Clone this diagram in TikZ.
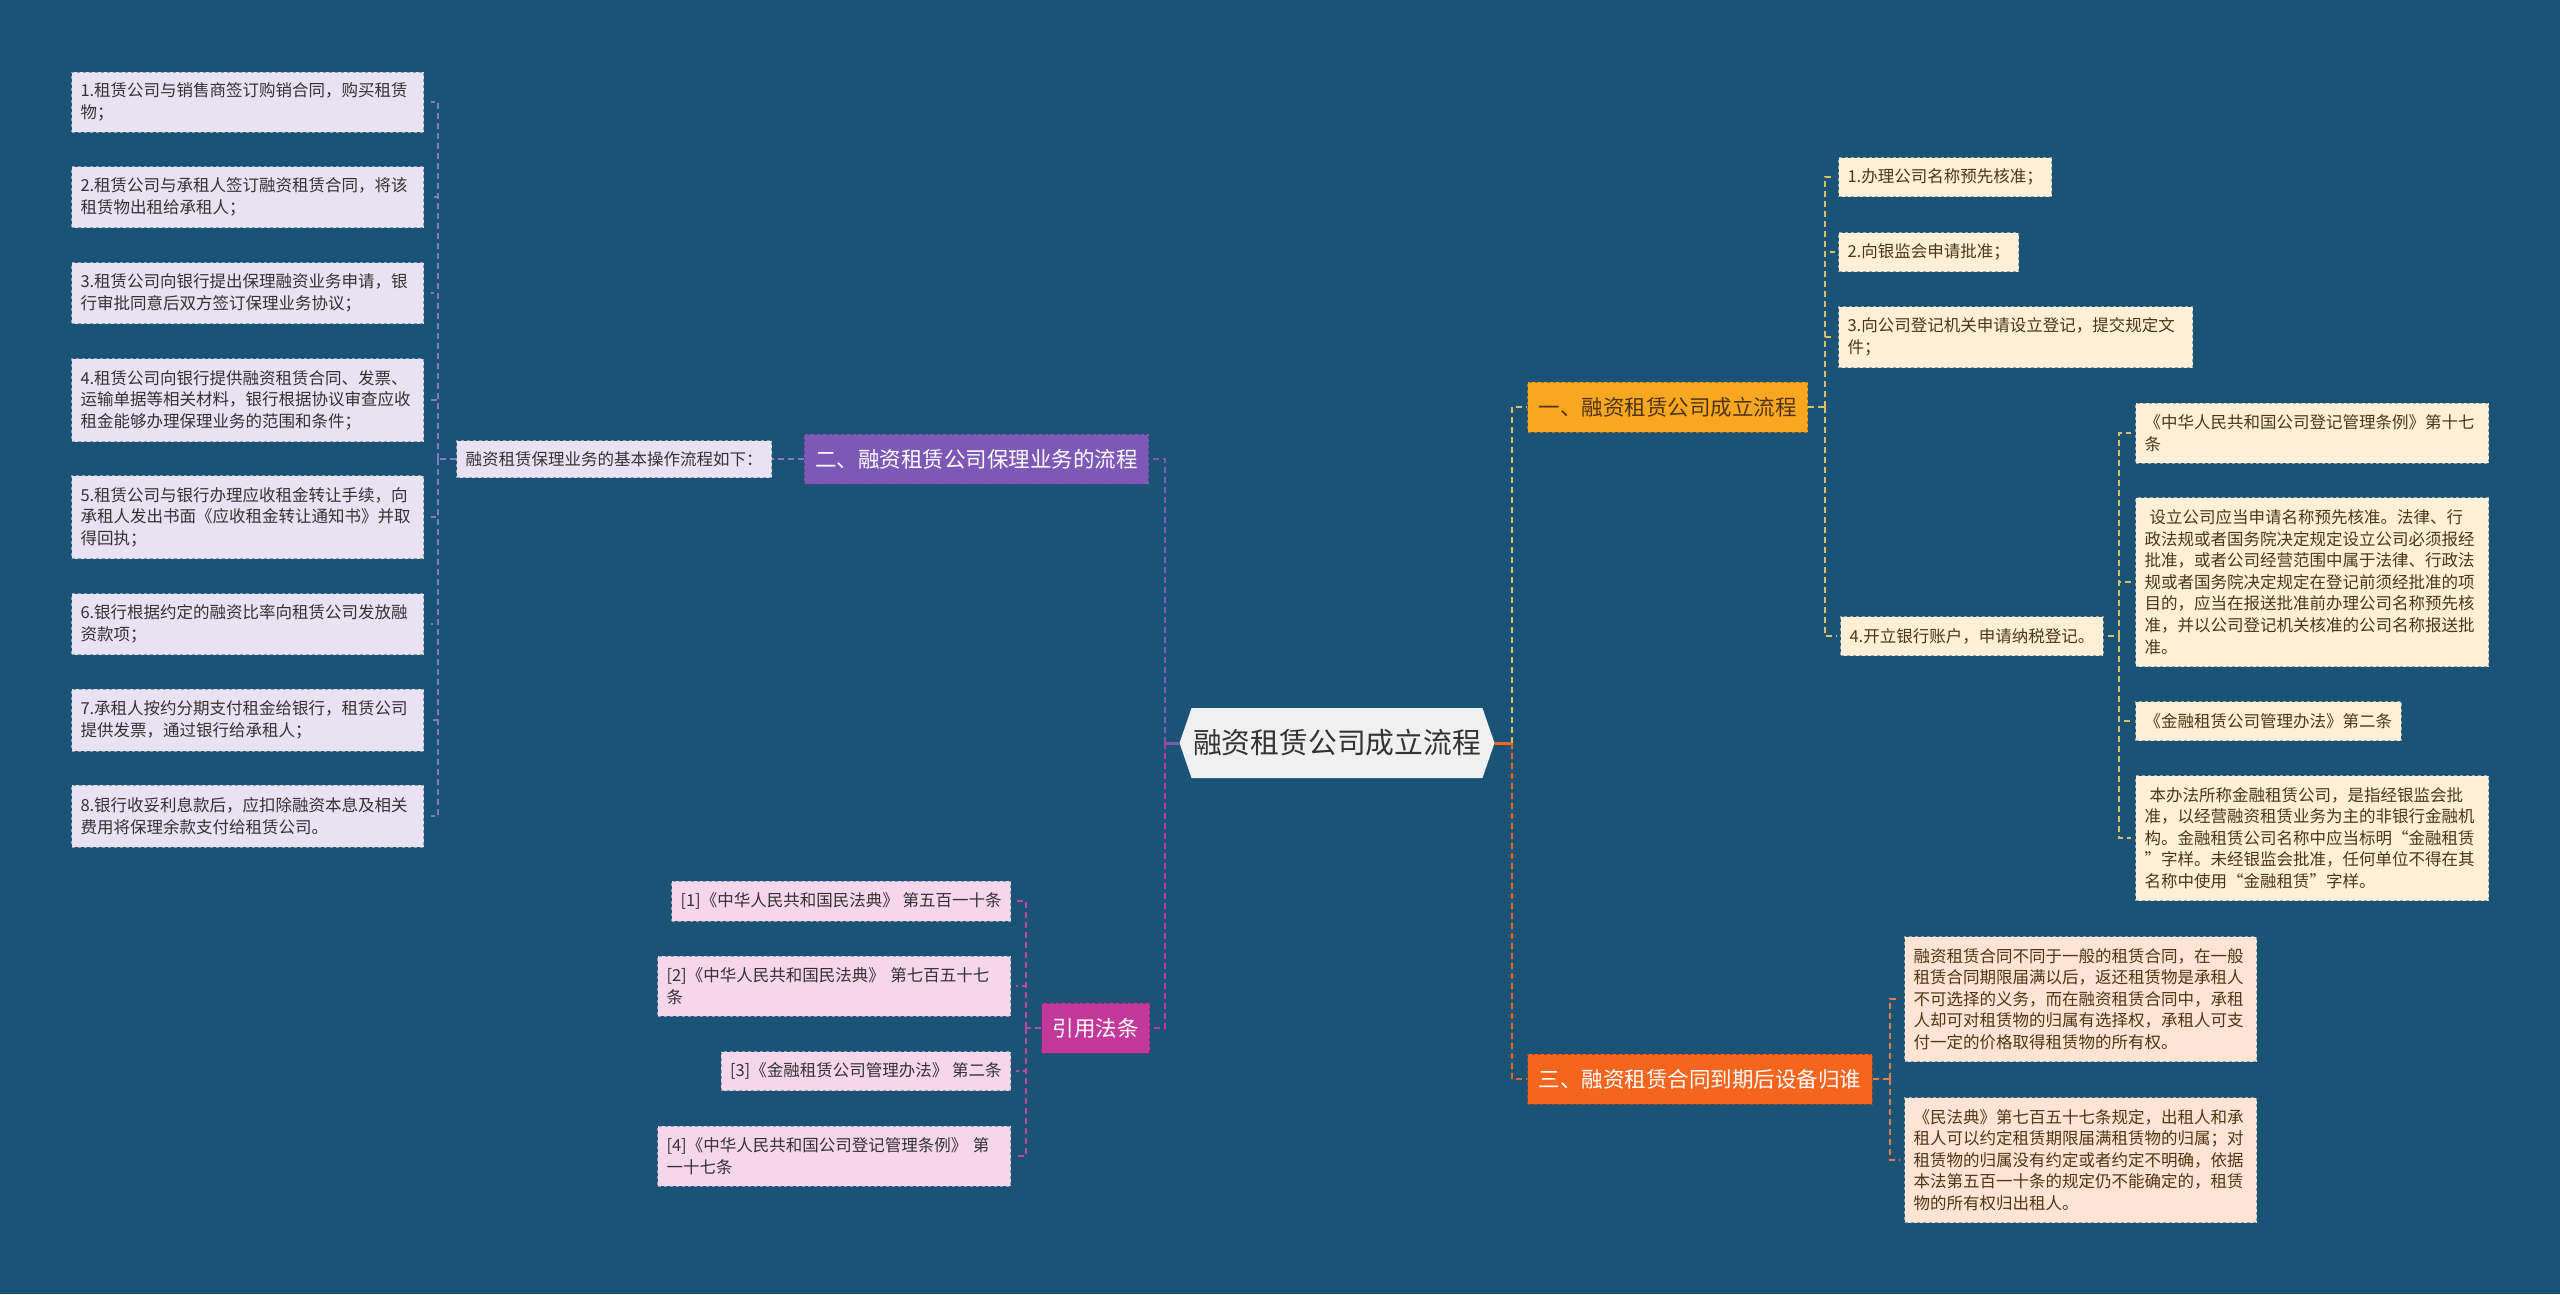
\documentclass[tikz,border=0pt]{standalone}
\usepackage{fontspec}
\setmainfont{Noto Sans CJK SC}
\usepackage{tikz}
\usetikzlibrary{shapes.symbols}
\definecolor{bgBlue}{RGB}{26,83,118}
\definecolor{rootGray}{RGB}{240,240,240}
\definecolor{inkDark}{RGB}{51,51,51}
\definecolor{inkBrown}{RGB}{78,54,20}
\definecolor{brYellow}{RGB}{249,166,32}
\definecolor{brPurple}{RGB}{126,88,182}
\definecolor{brOrange}{RGB}{246,101,30}
\definecolor{brMagenta}{RGB}{196,56,155}
\definecolor{lfLavender}{RGB}{232,226,243}
\definecolor{lfCream}{RGB}{253,240,214}
\definecolor{lfPeach}{RGB}{253,228,212}
\definecolor{lfPink}{RGB}{246,214,235}
\definecolor{lnPurple}{RGB}{134,120,196}
\definecolor{lnYellow}{RGB}{222,190,100}
\definecolor{lnOrange}{RGB}{226,128,74}
\definecolor{lnMagenta}{RGB}{196,70,160}
\newcommand{\mmfont}[2]{\fontsize{#1}{#2}\selectfont}

\begin{document}
\begin{tikzpicture}[x=1pt,y=-1pt,
  hubroot/.style={signal,signal to=west and east,signal pointer angle=142,
    fill=rootGray,text=inkDark,font=\mmfont{28.8}{34},
    minimum width=315,minimum height=70,inner sep=0pt},
  topic/.style={fill=#1,draw=#1!70!black,dashed,line width=1pt,
    inner xsep=11pt,inner ysep=0pt,minimum height=50,font=\mmfont{21.5}{26}},
  leaf/.style={fill=#1,draw=#1!55!bgBlue,dashed,line width=1pt,
    inner xsep=9pt,inner ysep=0pt,align=left,font=\mmfont{16.5}{21.6}},
  link/.style={draw=#1,line width=2pt,dash pattern=on 6pt off 4pt},
  stub/.style={draw=#1,line width=3pt}]
  % canvas
  \fill[bgBlue] (0,0) rectangle (2560,1294);
  \useasboundingbox (0,0) rectangle (2560,1294);
  % ---- centre ----
  \node[hubroot] (root) at (1337,743) {融资租赁公司成立流程};
  \coordinate (lhub) at (1165,743);
  \coordinate (rhub) at (1512,743);
  % ---- main topics ----
  \node[topic=brYellow,text=inkBrown,anchor=west] (yi) at (1527,407) {一、融资租赁公司成立流程};
  \node[topic=brPurple,text=white,anchor=east] (er) at (1149,459) {二、融资租赁公司保理业务的流程};
  \node[topic=brOrange,text=white,anchor=west] (san) at (1527,1079) {三、融资租赁合同到期后设备归谁};
  \node[topic=brMagenta,text=white,anchor=east] (fa) at (1150,1028) {引用法条};
  \draw[stub=brPurple] (root.west) -- (lhub);
  \draw[stub=brOrange] (root.east) -- (rhub);
  \draw[link=brPurple] (lhub) |- (er.east);
  \draw[link=brMagenta] (lhub) |- (fa.east);
  \draw[link=lnYellow] (rhub) |- (yi.west);
  \draw[link=brOrange] (rhub) |- (san.west);

  % ---- 二: factoring steps (left) ----
  \node[leaf=lfLavender,text=inkDark,anchor=east,minimum height=37] (intro) at (772,459)
    {融资租赁保理业务的基本操作流程如下：};
  \node[leaf=lfLavender,text=inkDark,anchor=east,text width=334,minimum height=60] (s1) at (424,102)
    {1.租赁公司与销售商签订购销合同，购买租赁\\物；};
  \node[leaf=lfLavender,text=inkDark,anchor=east,text width=334,minimum height=61] (s2) at (424,197)
    {2.租赁公司与承租人签订融资租赁合同，将该\\租赁物出租给承租人；};
  \node[leaf=lfLavender,text=inkDark,anchor=east,text width=334,minimum height=61] (s3) at (424,293)
    {3.租赁公司向银行提出保理融资业务申请，银\\行审批同意后双方签订保理业务协议；};
  \node[leaf=lfLavender,text=inkDark,anchor=east,text width=334,minimum height=83] (s4) at (424,400)
    {4.租赁公司向银行提供融资租赁合同、发票、\\运输单据等相关材料，银行根据协议审查应收\\租金能够办理保理业务的范围和条件；};
  \node[leaf=lfLavender,text=inkDark,anchor=east,text width=334,minimum height=83] (s5) at (424,517)
    {5.租赁公司与银行办理应收租金转让手续，向\\承租人发出书面《应收租金转让通知书》并取\\得回执；};
  \node[leaf=lfLavender,text=inkDark,anchor=east,text width=334,minimum height=61] (s6) at (424,624)
    {6.银行根据约定的融资比率向租赁公司发放融\\资款项；};
  \node[leaf=lfLavender,text=inkDark,anchor=east,text width=334,minimum height=62] (s7) at (424,720)
    {7.承租人按约分期支付租金给银行，租赁公司\\提供发票，通过银行给承租人；};
  \node[leaf=lfLavender,text=inkDark,anchor=east,text width=334,minimum height=62] (s8) at (424,816)
    {8.银行收妥利息款后，应扣除融资本息及相关\\费用将保理余款支付给租赁公司。};
  \coordinate (sp2) at (438,459);
  \draw[link=lnPurple] (er.west) -- (intro.east);
  \draw[link=lnPurple] (intro.west) -- (sp2);
  \foreach \n in {1,...,8}
    \draw[link=lnPurple,shorten >=7pt] (sp2) |- (s\n.east);

  % ---- 引用法条 (left, lower) ----
  \node[leaf=lfPink,text=inkDark,anchor=east,minimum height=40] (r1) at (1011,901)
    {[1]《中华人民共和国民法典》~第五百一十条};
  \node[leaf=lfPink,text=inkDark,anchor=east,text width=335,minimum height=60] (r2) at (1011,986)
    {[2]《中华人民共和国民法典》~第七百五十七\\条};
  \node[leaf=lfPink,text=inkDark,anchor=east,minimum height=39] (r3) at (1011,1071)
    {[3]《金融租赁公司管理办法》~第二条};
  \node[leaf=lfPink,text=inkDark,anchor=east,text width=335,minimum height=60] (r4) at (1011,1156)
    {[4]《中华人民共和国公司登记管理条例》~第\\一十七条};
  \coordinate (sp4) at (1026,1028);
  \draw[link=lnMagenta] (fa.west) -- (sp4);
  \foreach \n in {1,...,4}
    \draw[link=lnMagenta,shorten >=5pt] (sp4) |- (r\n.east);

  % ---- 一: setting up the company (right) ----
  \node[leaf=lfCream,text=inkBrown,anchor=west,minimum height=39] (c1) at (1838,177)
    {1.办理公司名称预先核准；};
  \node[leaf=lfCream,text=inkBrown,anchor=west,minimum height=39] (c2) at (1838,252)
    {2.向银监会申请批准；};
  \node[leaf=lfCream,text=inkBrown,anchor=west,text width=336,minimum height=61] (c3) at (1838,337)
    {3.向公司登记机关申请设立登记，提交规定文\\件；};
  \node[leaf=lfCream,text=inkBrown,anchor=west,minimum height=39] (c4) at (1840,636)
    {4.开立银行账户，申请纳税登记。};
  \coordinate (sp1) at (1825,407);
  \draw[link=lnYellow] (yi.east) -- (sp1);
  \foreach \n in {1,...,4}
    \draw[link=lnYellow,shorten >=3pt] (sp1) |- (c\n.west);
  % sources under step 4
  \node[leaf=lfCream,text=inkBrown,anchor=west,text width=335,minimum height=60] (d1) at (2135,433)
    {《中华人民共和国公司登记管理条例》第十七\\条};
  \node[leaf=lfCream,text=inkBrown,anchor=west,text width=335,minimum height=169] (d2) at (2135,582)
    {\hspace*{5pt}设立公司应当申请名称预先核准。法律、行\\政法规或者国务院决定规定设立公司必须报经\\批准，或者公司经营范围中属于法律、行政法\\规或者国务院决定规定在登记前须经批准的项\\目的，应当在报送批准前办理公司名称预先核\\准，并以公司登记机关核准的公司名称报送批\\准。};
  \node[leaf=lfCream,text=inkBrown,anchor=west,minimum height=39] (d3) at (2135,721)
    {《金融租赁公司管理办法》第二条};
  \node[leaf=lfCream,text=inkBrown,anchor=west,text width=335,minimum height=125] (d4) at (2135,838)
    {\hspace*{5pt}本办法所称金融租赁公司，是指经银监会批\\准，以经营融资租赁业务为主的非银行金融机\\构。金融租赁公司名称中应当标明“金融租赁\\”字样。未经银监会批准，任何单位不得在其\\名称中使用“金融租赁”字样。};
  \coordinate (sp3) at (2119,636);
  \draw[link=lnYellow,shorten <=4pt] (c4.east) -- (sp3);
  \foreach \n in {1,...,4}
    \draw[link=lnYellow,shorten >=4pt] (sp3) |- (d\n.west);

  % ---- 三: who owns the equipment (right, lower) ----
  \node[leaf=lfPeach,text=inkBrown,anchor=west,text width=334,minimum height=125] (e1) at (1904,999)
    {融资租赁合同不同于一般的租赁合同，在一般\\租赁合同期限届满以后，返还租赁物是承租人\\不可选择的义务，而在融资租赁合同中，承租\\人却可对租赁物的归属有选择权，承租人可支\\付一定的价格取得租赁物的所有权。};
  \node[leaf=lfPeach,text=inkBrown,anchor=west,text width=334,minimum height=125] (e2) at (1904,1160)
    {《民法典》第七百五十七条规定，出租人和承\\租人可以约定租赁期限届满租赁物的归属；对\\租赁物的归属没有约定或者约定不明确，依据\\本法第五百一十条的规定仍不能确定的，租赁\\物的所有权归出租人。};
  \coordinate (sp5) at (1890,1079);
  \draw[link=lnOrange] (san.east) -- (sp5);
  \foreach \n in {1,2}
    \draw[link=lnOrange,shorten >=4pt] (sp5) |- (e\n.west);
\end{tikzpicture}
\end{document}
